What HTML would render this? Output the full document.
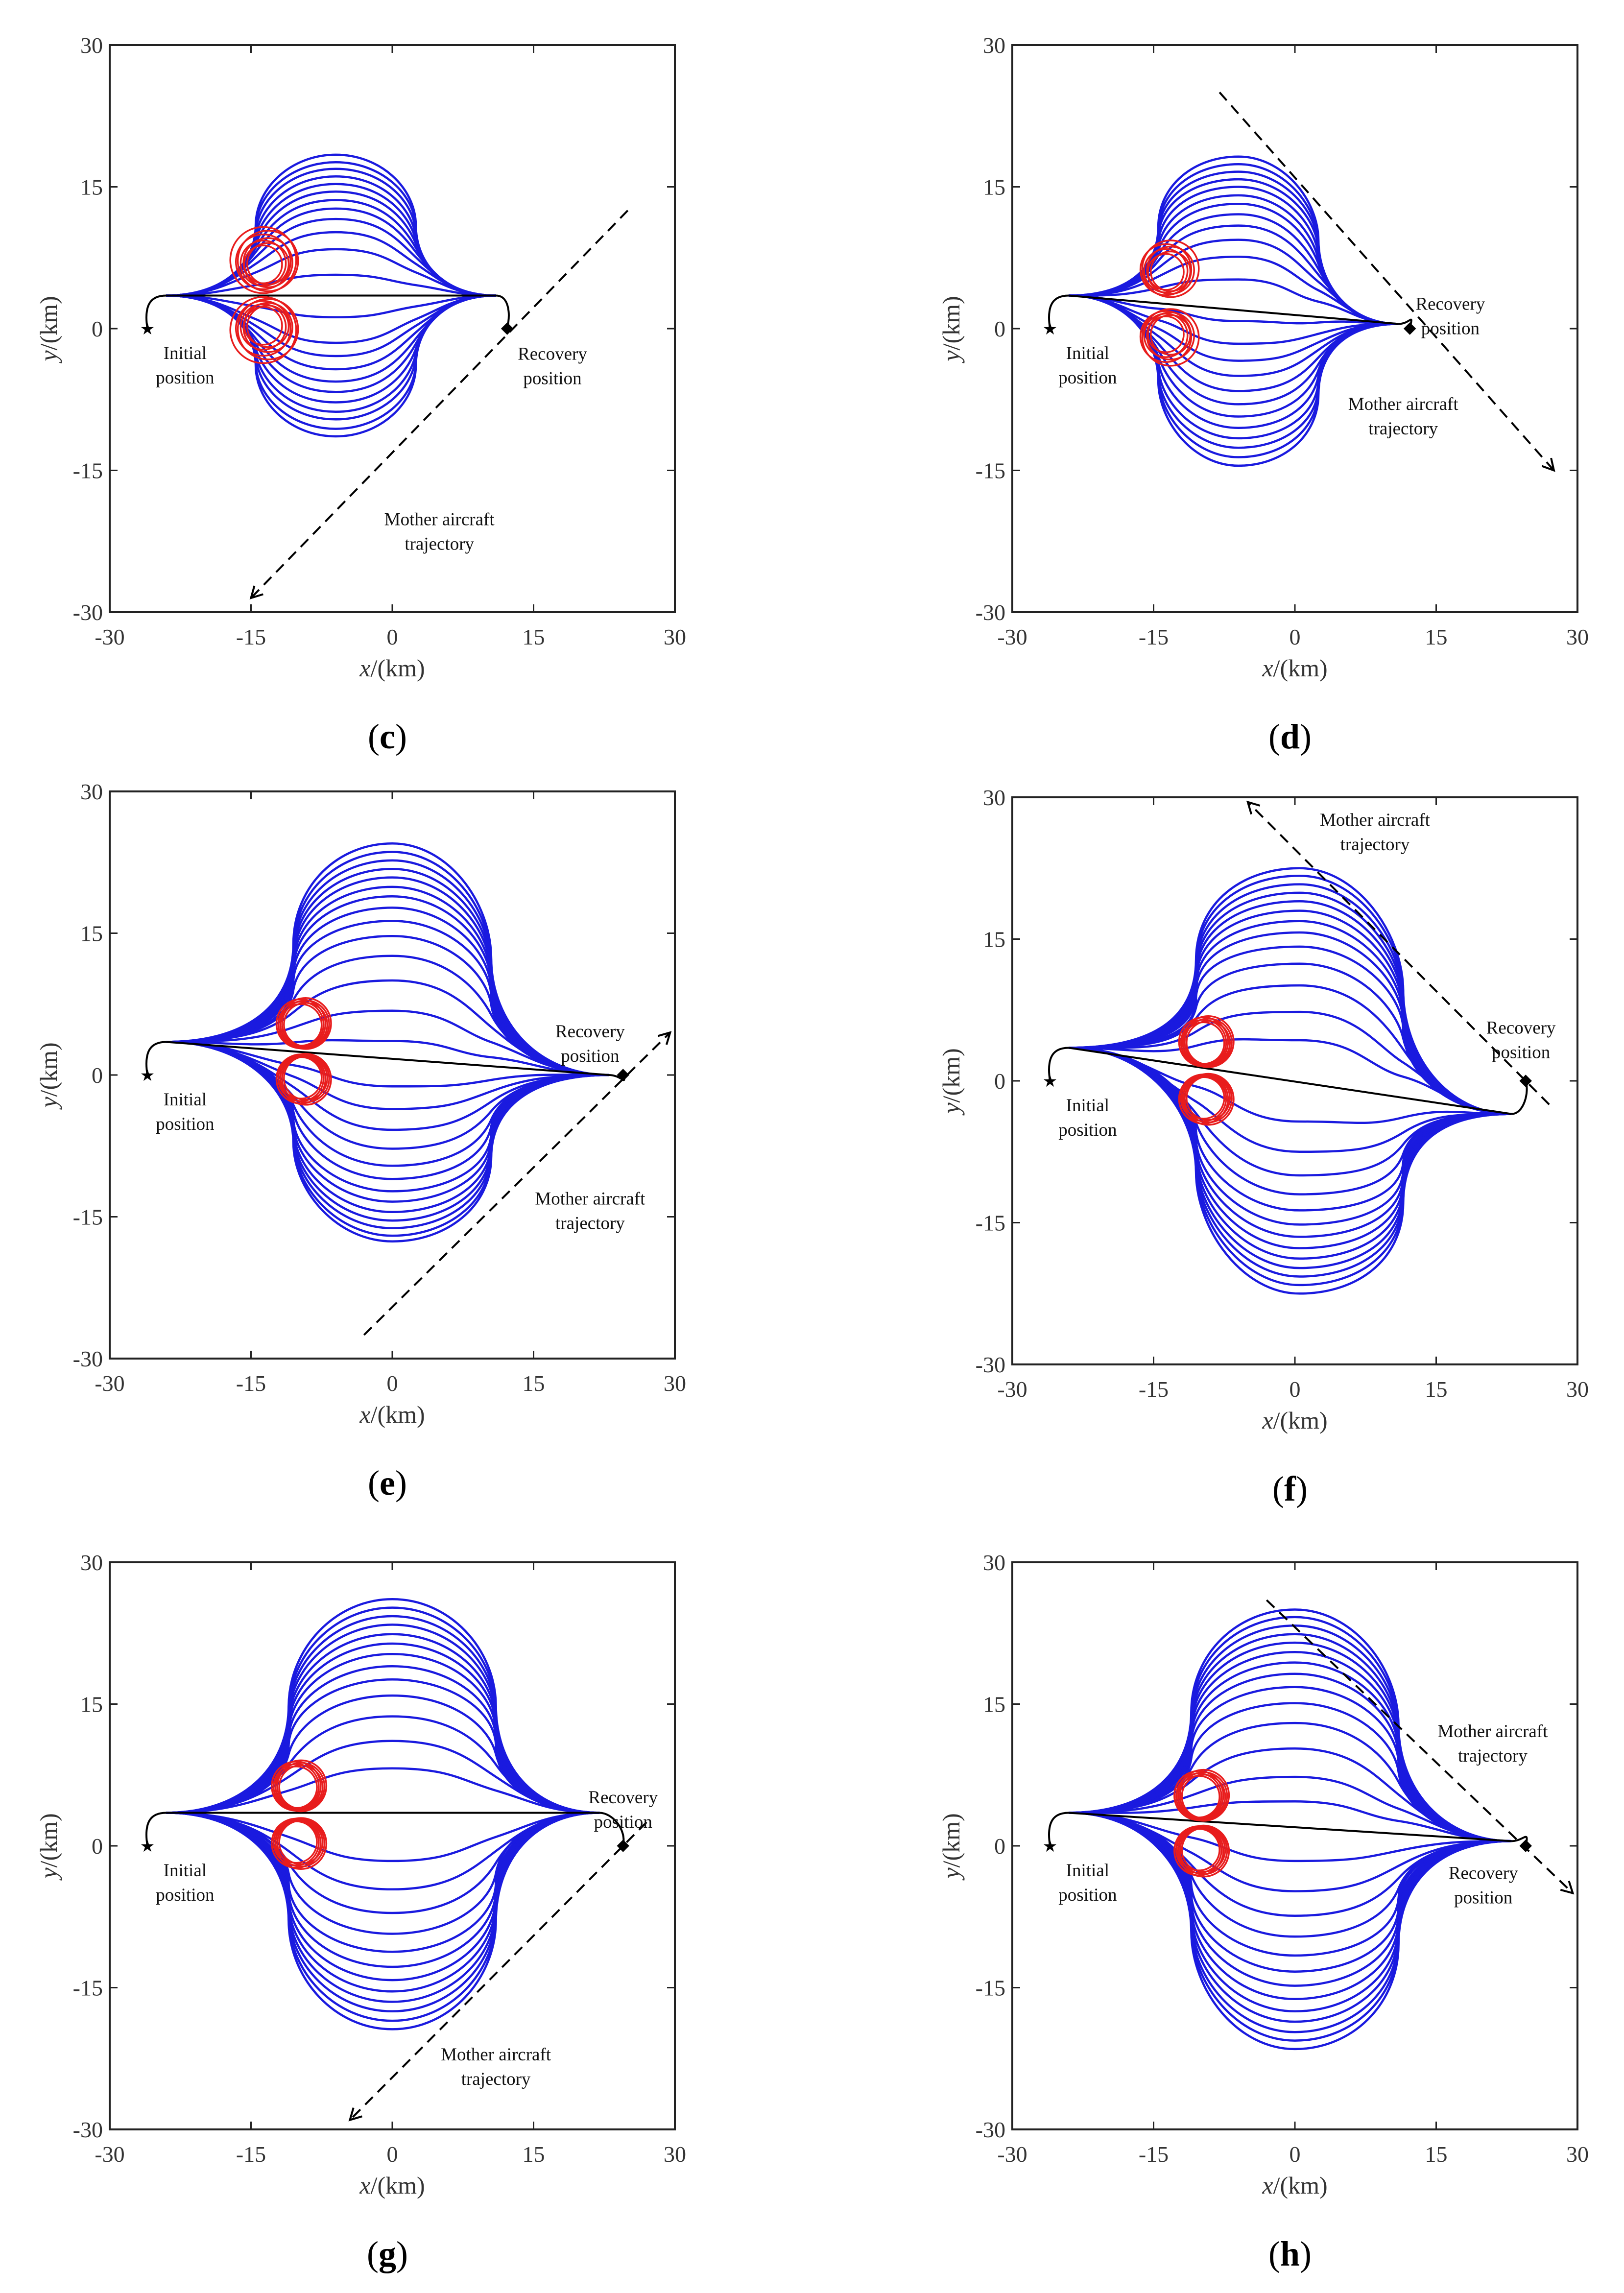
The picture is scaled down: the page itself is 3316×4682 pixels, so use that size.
<!DOCTYPE html>
<html><head><meta charset="utf-8"><style>
html,body{margin:0;padding:0;background:#fff}
svg{display:block}
</style></head><body>
<svg id="fig" xmlns="http://www.w3.org/2000/svg" width="3316" height="4682" viewBox="0 0 3316 4682"></svg>
<script>
// ---- data per panel ----
const panelIds = ['c','d','e','f','g','h'];
const panelBoxes = [[224,92],[2067,92],[224,1616],[2067,1628],[224,3190],[2067,3190]];
const startPts = [[-24,3.5],[-24,3.5],[-24,3.5],[-24,3.5],[-24,3.5],[-24,3.5]];
const endPts = [[11,3.5],[11,0.5],[23,0],[23,-3.5],[22,3.5],[23,0.5]];
const initPts = [[-26,0],[-26,0],[-26,0],[-26,0],[-26,0],[-26,0]];
const recPts = [[12.2,0],[12.2,0],[24.5,0],[24.5,0],[24.5,0],[24.5,0]];
const bulbCenters = [-6,-6,0,0.5,0,0];
const bulbHalfW = [8.5,8.5,10.5,11,11,11];
const upperPeaks = [
 [18.4,17.6,16.9,16.1,15.3,14.5,13.6,12.7,11.6,10.2,8.4,5.7],
 [18.2,17.4,16.6,15.8,15.0,14.1,13.2,12.1,10.9,9.4,7.6,5.2],
 [24.5,23.6,22.7,21.8,20.9,19.9,18.9,17.7,16.3,14.7,12.6,10.0,6.8,3.6],
 [22.5,21.7,20.8,19.9,19.0,18.0,16.9,15.7,14.2,12.4,10.1,7.3,4.3],
 [26.1,25.2,24.3,23.4,22.4,21.4,20.3,19.0,17.6,15.9,13.7,11.1,8.2],
 [25.0,24.2,23.3,22.4,21.5,20.5,19.4,18.2,16.8,15.1,13.0,10.3,7.3,4.7]
];
const lowerTroughs = [
 [1.2,-1.5,-2.9,-4.3,-5.6,-6.7,-7.8,-8.8,-9.6,-10.6,-11.4],
 [0.8,-1.6,-3.4,-5.0,-6.6,-8.0,-9.3,-10.5,-11.6,-12.6,-13.6,-14.5],
 [-1.2,-3.6,-5.8,-7.8,-9.6,-11.0,-12.3,-13.4,-14.5,-15.4,-16.2,-17.0,-17.6],
 [-4.3,-7.5,-10.0,-12.0,-13.7,-15.2,-16.5,-17.7,-18.8,-19.8,-20.7,-21.6,-22.5],
 [-1.6,-4.6,-7.1,-9.3,-11.2,-12.8,-14.2,-15.4,-16.5,-17.5,-18.5,-19.4],
 [-1.6,-4.8,-7.4,-9.6,-11.6,-13.3,-14.8,-16.2,-17.5,-18.6,-19.7,-20.6,-21.5]
];
const redCentersX = [-13.5,-13.5,-9.5,-9.5,-10,-10];
const redTopY = [6.8,6.0,5.3,4.0,6.2,5.2];
const redBotY = [0.3,-0.6,-0.3,-1.8,0.4,-0.4];
const redRadii = [[2.0,2.2,2.4,2.6,2.9,3.2,3.5],[1.9,2.1,2.3,2.5,2.7,3.0],[2.2,2.3,2.4,2.5,2.6,2.7],[2.2,2.3,2.4,2.5,2.6,2.7],[2.2,2.3,2.4,2.5,2.6,2.7],[2.2,2.3,2.4,2.5,2.6,2.7]];
const dashFrom = [[25,12.5],[-8,25],[-3,-27.5],[27,-2.5],[27,2.5],[-3,26]];
const dashTo = [[-15,-28.5],[27.5,-15],[29.5,4.5],[-5,29.5],[-4.5,-29],[29.5,-5]];
const labelInit = [[-22,-3.2],[-22,-3.2],[-22,-3.2],[-22,-3.2],[-22,-3.2],[-22,-3.2]];
const labelRec = [[17,-3.3],[16.5,2.0],[21,4.0],[24,5.0],[24.5,4.5],[20,-3.5]];
const labelMom = [[5,-20.8],[11.5,-8.6],[21,-13.7],[8.5,27.0],[11,-22.7],[21,11.5]];
const tickVals = [-30,-15,0,15,30];

const NS='http://www.w3.org/2000/svg';
const svg=document.getElementById('fig');
const W=1154,H=1158;
function mk(tag,attrs,parent){const e=document.createElementNS(NS,tag);for(const k in attrs)e.setAttribute(k,attrs[k]);(parent||svg).appendChild(e);return e;}

panelIds.forEach((pid,i)=>{
  const [L,T]=panelBoxes[i];
  const X=x=>L+(x+30)/60*W, Y=y=>T+(30-y)/60*H;
  const g=mk('g',{});
  
  
  const S=startPts[i],E=endPts[i],xc=bulbCenters[i],w=bulbHalfW[i];
  const base=x=>S[1]+(E[1]-S[1])*(x-S[0])/(E[0]-S[0]);
  const bg=mk('g',{fill:'none',stroke:'#1a1adf','stroke-width':4.5},g);
  
  
  const curve=(peak)=>{
    const yb=base(xc),A=peak-yb,aA=Math.abs(A),sg=Math.sign(A)||1;
    const f=Math.pow(Math.min(aA/14,1),1.6);
    const xl=xc-w,xr=xc+w;
    const ql=base(xl)+A*0.5, qr=base(xr)+A*0.5;
    const tx=(1-f)*w*0.45+0.05, ty=sg*(f*aA*0.3+(1-f)*aA*0.25);
    const p=(x,y)=>X(x).toFixed(1)+' '+Y(y).toFixed(1);
    const s1=(1-f)*0.45+f*0.6;
    return 'M'+p(S[0],S[1])+
      ' C'+p(S[0]+(xl-S[0])*s1,S[1])+','+p(xl-tx,ql-ty)+','+p(xl,ql)+
      ' C'+p(xl+tx*0.9,ql+ty*0.9)+','+p(xc-w*0.55,peak)+','+p(xc,peak)+
      ' C'+p(xc+w*0.55,peak)+','+p(xr-tx*0.9,qr+ty*0.9)+','+p(xr,qr)+
      ' C'+p(xr+tx,qr-ty)+','+p(E[0]-(E[0]-xr)*s1,E[1])+','+p(E[0],E[1]);
  };
  upperPeaks[i].concat(lowerTroughs[i]).forEach(v=>{
    const pa=mk('path',{d:curve(v)},bg);
    
    
  });
  const I=initPts[i],R=recPts[i];
  const bl=mk('path',{d:`M${X(S[0])} ${Y(S[1])} L${X(E[0])} ${Y(E[1])}`,stroke:'#000','stroke-width':4,fill:'none'},g);
  
  
  const hk=mk('path',{d:`M${X(I[0])} ${Y(I[1])} C${X(I[0]-0.4)} ${Y(2.6)} ${X(S[0]-1.6)} ${Y(S[1])} ${X(S[0])} ${Y(S[1])} M${X(E[0])} ${Y(E[1])} C${X(E[0]+1.3)} ${Y(E[1])} ${X(R[0]+0.4)} ${Y(R[1]+(E[1]>R[1]?1.8:-1.2))} ${X(R[0])} ${Y(R[1])}`,stroke:'#000','stroke-width':4,fill:'none'},g);
  
  
  const st=mk('text',{x:X(I[0]),y:Y(I[1])+12,'font-size':34,'text-anchor':'middle','font-family':'DejaVu Sans'},g);
  st.textContent='★';
  
  
  const dm=mk('rect',{x:X(R[0])-9,y:Y(R[1])-9,width:18,height:18,fill:'#000',transform:`rotate(45 ${X(R[0])} ${Y(R[1])})`},g);
  
  
  const rg=mk('g',{fill:'none',stroke:'#e81c1c','stroke-width':3.5},g);
  
  
  redRadii[i].forEach((r,k)=>{
    [redTopY[i],redBotY[i]].forEach((cy,j)=>{
      const off=(k%2?0.3:-0.2);
      const c=mk('ellipse',{cx:X(redCentersX[i]+off),cy:Y(cy+(j?-1:1)*(r-redRadii[i][0])*0.3),rx:r/60*W,ry:r/60*H},rg);
      
      
    });
  });
  const A0=dashFrom[i],A1=dashTo[i];
  const dl=mk('line',{x1:X(A0[0]),y1:Y(A0[1]),x2:X(A1[0]),y2:Y(A1[1]),stroke:'#000','stroke-width':4,'stroke-dasharray':'22 14'},g);
  
  
  const dx=X(A1[0])-X(A0[0]),dy=Y(A1[1])-Y(A0[1]),len=Math.hypot(dx,dy),ux=dx/len,uy=dy/len;
  const ax=X(A1[0]),ay=Y(A1[1]),al=26;
  const rot=(a)=>[ax-al*(ux*Math.cos(a)-uy*Math.sin(a)),ay-al*(uy*Math.cos(a)+ux*Math.sin(a))];
  const p1=rot(0.5),p2=rot(-0.5);
  const ar=mk('path',{d:`M${p1[0]} ${p1[1]} L${ax} ${ay} L${p2[0]} ${p2[1]}`,stroke:'#000','stroke-width':4,fill:'none'},g);
  
  
  const lab=(pos,lines,name)=>{
    const t=mk('text',{x:X(pos[0]),y:Y(pos[1]),'font-size':37,'text-anchor':'middle','font-family':'Liberation Serif, serif',fill:'#111'},g);
    
    
    lines.forEach((s,k)=>{const ts=mk('tspan',{x:X(pos[0]),dy:k?50:0},t);ts.textContent=s;});
  };
  lab(labelInit[i],['Initial','position'],'initial-position-label');
  lab(labelRec[i],['Recovery','position'],'recovery-position-label');
  lab(labelMom[i],['Mother aircraft','trajectory'],'mother-aircraft-label');
  const fr=mk('rect',{x:L,y:T,width:W,height:H,fill:'none',stroke:'#222','stroke-width':4},g);
  
  
  tickVals.forEach(v=>{
    if(v>-30&&v<30){
      mk('path',{d:`M${X(v)} ${T+H} v-16 M${X(v)} ${T} v16 M${L} ${Y(v)} h16 M${L+W} ${Y(v)} h-16`,stroke:'#222','stroke-width':3},g);
    }
    const tx=mk('text',{x:X(v),y:T+H+66,'font-size':46,'text-anchor':'middle','font-family':'Liberation Serif, serif',fill:'#333'},g);
    tx.textContent=String(v);
    
    
    const ty=mk('text',{x:L-14,y:Y(v)+16,'font-size':46,'text-anchor':'end','font-family':'Liberation Serif, serif',fill:'#333'},g);
    ty.textContent=String(v);
    
    
  });
  const xt=mk('text',{x:L+W/2,y:T+H+131,'font-size':50,'text-anchor':'middle','font-family':'Liberation Serif, serif',fill:'#333'},g);
  xt.innerHTML='<tspan font-style="italic">x</tspan>/(km)';
  
  
  const yt=mk('text',{x:0,y:0,'font-size':50,'text-anchor':'middle','font-family':'Liberation Serif, serif',fill:'#333',transform:`translate(${L-108},${T+H/2}) rotate(-90)`},g);
  yt.innerHTML='<tspan font-style="italic">y</tspan>/(km)';
  
  
  const cap=mk('text',{x:L+W/2-10,y:T+H+278,'font-size':72,'text-anchor':'middle','font-family':'Liberation Serif, serif',fill:'#000'},g);
  cap.innerHTML='(<tspan font-weight="bold">'+pid+'</tspan>)';
  
  
});
</script>
</body></html>
